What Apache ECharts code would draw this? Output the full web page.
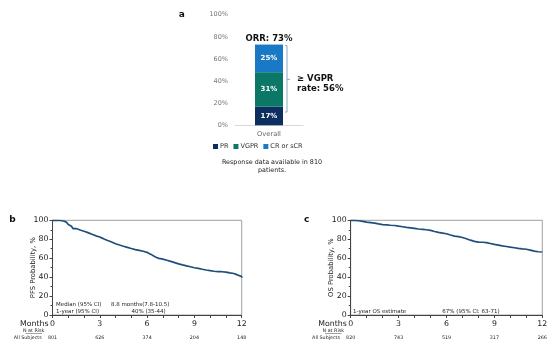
<!DOCTYPE html>
<html>
<head>
<meta charset="utf-8">
<script src="https://cdn.jsdelivr.net/npm/echarts@6/dist/echarts.min.js"></script>
<style>
html,body{margin:0;padding:0;background:#fff;}
#chart{width:554px;height:349px;}
</style>
</head>
<body>
<div id="chart"></div>
<script>
// ---- Panel a: response ----
var respCategories = ['Overall'];
var respNames = ['PR', 'VGPR', 'CR or sCR'];
var prValues = [17];
var vgprValues = [31];
var crValues = [25];
var respTicks = [0, 20, 40, 60, 80, 100];

// ---- Panel b: PFS ----
var pfsMonths = [0,0.25,0.5,0.75,0.9,1,1.1,1.2,1.3,1.5,1.75,2,2.25,2.5,2.75,3,3.15,3.3,3.5,3.75,4,4.25,4.5,4.75,5,5.25,5.5,5.75,6,6.15,6.3,6.45,6.6,6.75,7,7.25,7.5,7.75,8,8.25,8.5,8.75,9,9.25,9.5,9.75,10,10.25,10.5,10.75,11,11.25,11.5,11.65,11.8,12];
var pfsValues = [100,99.8,99.0,97.8,96.8,95.5,93.8,92.4,91.3,89.8,88.5,87.0,85.3,83.6,82.3,81.2,80.0,78.6,77.0,75.3,73.9,72.6,71.4,70.2,69.1,68.2,67.3,66.2,64.8,63.5,62.0,60.8,59.8,59.0,57.8,56.6,55.3,54.0,52.9,51.9,50.9,49.9,49.3,48.3,47.5,46.8,46.2,45.9,45.7,45.3,44.4,43.8,42.9,41.8,40.6,39.3];
var pfsRiskMonths = [0, 3, 6, 9, 12];
var pfsAtRisk = [801, 626, 374, 204, 148];

// ---- Panel c: OS ----
var osMonths = [0,0.25,0.5,0.75,1,1.25,1.5,1.75,2,2.25,2.5,2.75,3,3.25,3.5,3.75,4,4.25,4.5,4.75,5,5.25,5.5,5.75,6,6.25,6.5,6.75,7,7.25,7.5,7.75,8,8.25,8.5,8.75,9,9.25,9.5,9.75,10,10.25,10.5,10.75,11,11.25,11.5,11.75,12];
var osValues = [100,99.5,98.8,98.0,97.5,97.0,96.2,95.5,95.2,94.8,94.5,93.8,93.2,92.5,92.0,91.5,90.8,90.5,90.0,89.3,88.2,87.2,86.5,85.8,84.5,83.3,82.8,81.8,80.5,79.0,77.8,77.0,76.8,76.5,75.5,74.5,73.8,73.0,72.3,71.6,71.0,70.3,69.8,69.4,68.5,67.5,66.8,66.5,66.5];
var osRiskMonths = [0, 3, 6, 9, 12];
var osAtRisk = [820, 743, 519, 317, 266];

var FONT = 'DejaVu Sans';
var LINE = '#1f4e7c';
var COL_PR = '#0c2f5f';
var COL_VGPR = '#0b7766';
var COL_CR = '#1a79c4';

function pairs(xs, ys) { return xs.map(function (x, i) { return [x, ys[i]]; }); }
function riskFormatter(months, counts) {
  return function (v) { var i = months.indexOf(v); return i >= 0 ? String(counts[i]) : ''; };
}

var orrTotal = prValues[0] + vgprValues[0] + crValues[0];
var vgprRate = vgprValues[0] + crValues[0];

function kmX(gridIndex) {
  return {
    type: 'value', gridIndex: gridIndex, min: 0, max: 12, interval: 3,
    axisLine: { show: true, lineStyle: { color: '#444', width: 1 } },
    axisTick: { show: true, inside: false, length: 3, lineStyle: { color: '#444' } },
    minorTick: { show: true, splitNumber: 3, length: 3, lineStyle: { color: '#444' } },
    splitLine: { show: false },
    axisLabel: { fontFamily: FONT, fontSize: 7.8, color: '#222', margin: 5 }
  };
}
function riskX(gridIndex, months, counts) {
  return {
    type: 'value', gridIndex: gridIndex, min: 0, max: 12, interval: 3, position: 'bottom', offset: 18,
    axisLine: { show: false }, axisTick: { show: false }, splitLine: { show: false },
    axisLabel: { fontFamily: FONT, fontSize: 4.8, color: '#222', margin: 2, formatter: riskFormatter(months, counts) }
  };
}
function kmY(gridIndex, name) {
  return {
    type: 'value', gridIndex: gridIndex, min: 0, max: 100, interval: 20,
    name: name, nameLocation: 'middle', nameGap: 16, nameMoveOverlap: false,
    nameTextStyle: { fontFamily: FONT, fontSize: 6.8, color: '#222' },
    axisLine: { show: true, lineStyle: { color: '#444', width: 1 } },
    axisTick: { show: true, inside: false, length: 3, lineStyle: { color: '#444' } },
    minorTick: { show: true, splitNumber: 2, length: 2, lineStyle: { color: '#444' } },
    splitLine: { show: false },
    axisLabel: { fontFamily: FONT, fontSize: 7.8, color: '#222', margin: 4 }
  };
}

var chart = echarts.init(document.getElementById('chart'), null, { renderer: 'canvas' });

var option = {
  backgroundColor: '#fff',
  animation: false,
  textStyle: { fontFamily: FONT },
  legend: {
    data: respNames, left: 213, top: 143, itemWidth: 5, itemHeight: 5, itemGap: 5, icon: 'rect',
    padding: 0, textStyle: { fontFamily: FONT, fontSize: 6.5, color: '#333', padding: [0, 0, 0, -3] }
  },
  grid: [
    { left: 235, top: 14.7, width: 68, height: 110.6 },
    { left: 52.5, top: 220.3, width: 189.2, height: 94.7, show: true, borderColor: '#a0a0a0', borderWidth: 1, backgroundColor: 'transparent' },
    { left: 350.7, top: 220.3, width: 191.6, height: 94.7, show: true, borderColor: '#a0a0a0', borderWidth: 1, backgroundColor: 'transparent' }
  ],
  xAxis: [
    {
      type: 'category', gridIndex: 0, data: respCategories,
      axisLine: { show: true, lineStyle: { color: '#d8d8d8' } }, axisTick: { show: false },
      axisLabel: { fontFamily: FONT, fontSize: 6.7, color: '#666', margin: 5 }
    },
    kmX(1), riskX(1, pfsRiskMonths, pfsAtRisk),
    kmX(2), riskX(2, osRiskMonths, osAtRisk)
  ],
  yAxis: [
    {
      type: 'value', gridIndex: 0, min: respTicks[0], max: respTicks[respTicks.length - 1], interval: 20,
      axisLine: { show: false }, axisTick: { show: false }, splitLine: { show: false },
      axisLabel: { fontFamily: FONT, fontSize: 6.5, color: '#777', margin: 7, formatter: '{value}%' }
    },
    kmY(1, 'PFS Probability, %'),
    kmY(2, 'OS Probability, %')
  ],
  series: [
    { name: 'PR', type: 'bar', stack: 'r', xAxisIndex: 0, yAxisIndex: 0, barWidth: 28, data: prValues,
      itemStyle: { color: COL_PR },
      label: { show: true, position: 'inside', formatter: '{c}%', color: '#fff', fontWeight: 'bold', fontSize: 7, fontFamily: FONT } },
    { name: 'VGPR', type: 'bar', stack: 'r', xAxisIndex: 0, yAxisIndex: 0, barWidth: 28, data: vgprValues,
      itemStyle: { color: COL_VGPR },
      label: { show: true, position: 'inside', formatter: '{c}%', color: '#fff', fontWeight: 'bold', fontSize: 7, fontFamily: FONT } },
    { name: 'CR or sCR', type: 'bar', stack: 'r', xAxisIndex: 0, yAxisIndex: 0, barWidth: 28, data: crValues,
      itemStyle: { color: COL_CR },
      label: { show: true, position: 'inside', formatter: '{c}%', color: '#fff', fontWeight: 'bold', fontSize: 7, fontFamily: FONT } },
    { name: 'ORR', type: 'bar', stack: 'r', xAxisIndex: 0, yAxisIndex: 0, barWidth: 28, data: [0],
      itemStyle: { color: 'transparent' },
      label: { show: true, position: 'top', distance: 1, formatter: function () { return 'ORR: ' + orrTotal + '%'; },
        color: '#111', fontWeight: 'bold', fontSize: 8.5, fontFamily: FONT } },
    { name: 'PFS', type: 'line', step: 'end', xAxisIndex: 1, yAxisIndex: 1, showSymbol: false,
      data: pairs(pfsMonths, pfsValues), lineStyle: { color: LINE, width: 1.7 } },
    { name: 'OS', type: 'line', step: 'end', xAxisIndex: 3, yAxisIndex: 2, showSymbol: false,
      data: pairs(osMonths, osValues), lineStyle: { color: LINE, width: 1.7 } }
  ]
};
chart.setOption(option);

// bracket and annotation for panel a (positions derived from the bar scale)
var pTop = chart.convertToPixel({ xAxisIndex: 0, yAxisIndex: 0 }, ['Overall', orrTotal]);
var pBot = chart.convertToPixel({ xAxisIndex: 0, yAxisIndex: 0 }, ['Overall', 12]);
var bx = pTop[0] + 18;
var bMid = (pTop[1] + pBot[1]) / 2 + 1;
var small = { fontFamily: FONT, fontSize: 5.5, fill: '#222' };
function txt(x, y, text, style, align) {
  return { type: 'text', x: x, y: y, style: Object.assign({ text: text, textAlign: align || 'left', textVerticalAlign: 'middle' }, style) };
}
chart.setOption({
  graphic: [
    { type: 'polyline', shape: { points: [[bx - 2, pTop[1] + 1], [bx, pTop[1] + 1], [bx, pBot[1]], [bx - 2, pBot[1]]] },
      style: { stroke: '#8aa6c8', lineWidth: 1, fill: null } },
    { type: 'line', shape: { x1: bx, y1: bMid, x2: bx + 3, y2: bMid }, style: { stroke: '#8aa6c8', lineWidth: 1 } },
    txt(bx + 10, bMid, '≥ VGPR', { fontFamily: FONT, fontSize: 8.5, fontWeight: 'bold', fill: '#111' }),
    txt(bx + 10, bMid + 10, 'rate: ' + vgprRate + '%', { fontFamily: FONT, fontSize: 8.5, fontWeight: 'bold', fill: '#111' }),
    txt(181.7, 15, 'a', { fontFamily: FONT, fontSize: 9, fontWeight: 'bold', fill: '#111' }, 'center'),
    txt(272, 162.5, 'Response data available in 810', { fontFamily: FONT, fontSize: 6.4, fill: '#222' }, 'center'),
    txt(272, 170, 'patients.', { fontFamily: FONT, fontSize: 6.4, fill: '#222' }, 'center'),
    // panel b
    txt(12.5, 220, 'b', { fontFamily: FONT, fontSize: 9, fontWeight: 'bold', fill: '#111' }, 'center'),
    txt(48.5, 324, 'Months', { fontFamily: FONT, fontSize: 7.8, fill: '#222' }, 'right'),
    txt(33.7, 330.5, 'N at Risk', { fontFamily: FONT, fontSize: 4.8, fill: '#222' }, 'center'),
    { type: 'line', shape: { x1: 25.5, y1: 333.5, x2: 42, y2: 333.5 }, style: { stroke: '#444', lineWidth: 0.5 } },
    txt(41.7, 338, 'All Subjects', { fontFamily: FONT, fontSize: 4.8, fill: '#222' }, 'right'),
    txt(56, 305, 'Median (95% CI)', small),
    txt(111, 305, '8.8 months(7.8-10.5)', small),
    txt(56, 311.3, '1-year (95% CI)', small),
    txt(131.5, 311.3, '40% (35-44)', small),
    // panel c
    txt(306.7, 220, 'c', { fontFamily: FONT, fontSize: 9, fontWeight: 'bold', fill: '#111' }, 'center'),
    txt(346.8, 324, 'Months', { fontFamily: FONT, fontSize: 7.8, fill: '#222' }, 'right'),
    txt(333.3, 330.5, 'N at Risk', { fontFamily: FONT, fontSize: 4.8, fill: '#222' }, 'center'),
    { type: 'line', shape: { x1: 325, y1: 333.5, x2: 341.5, y2: 333.5 }, style: { stroke: '#444', lineWidth: 0.5 } },
    txt(340, 338, 'All Subjects', { fontFamily: FONT, fontSize: 4.8, fill: '#222' }, 'right'),
    txt(353, 311.3, '1-year OS estimate', small),
    txt(442.3, 311.3, '67% (95% CI: 63-71)', small)
  ]
});
</script>
</body>
</html>
